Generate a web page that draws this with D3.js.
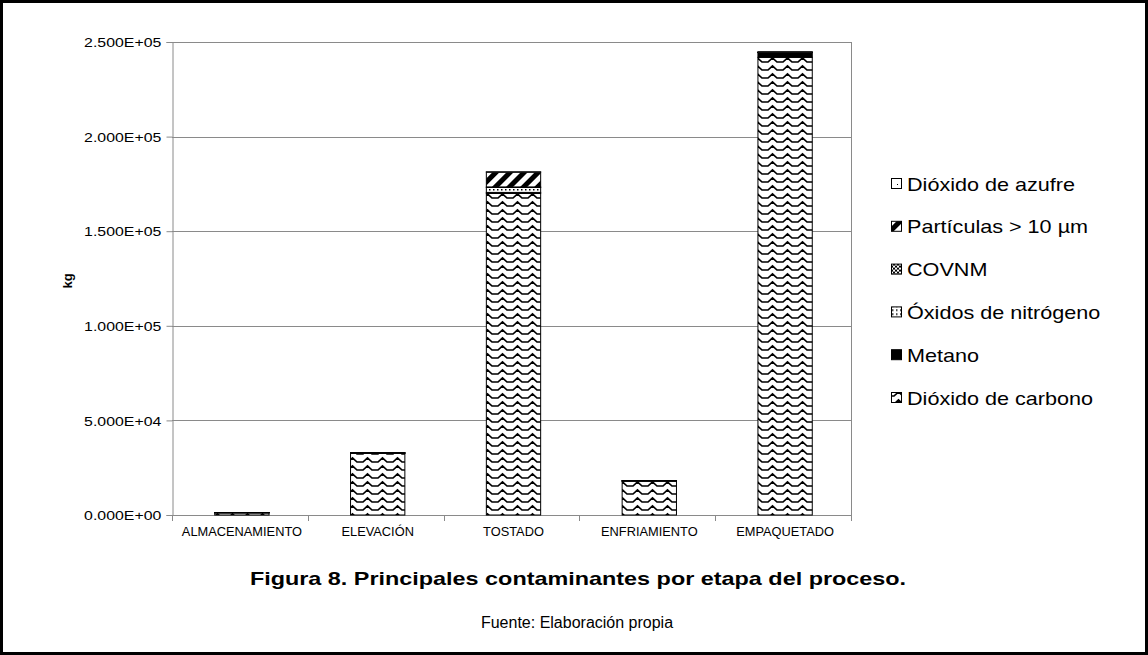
<!DOCTYPE html>
<html>
<head>
<meta charset="utf-8">
<script src="https://cdn.jsdelivr.net/npm/d3@7"></script>
<style>
  body { margin: 0; background: #fff; }
  svg { display: block; font-family: "Liberation Sans", Arial, sans-serif; }
</style>
</head>
<body>
<svg id="chart" width="1148" height="655"></svg>
<script>
// Emisiones por etapa del proceso (kg)
const categories = ["ALMACENAMIENTO", "ELEVACIÓN", "TOSTADO", "ENFRIAMIENTO", "EMPAQUETADO"];
const seriesNames = ["Dióxido de carbono", "Metano", "Óxidos de nitrógeno", "COVNM", "Partículas > 10 µm", "Dióxido de azufre"];
const dioxidoCarbono = [1100, 32700, 170000, 18000, 241900];
const metano = [150, 80, 500, 30, 2500];
const oxidosNitrogeno = [20, 10, 2600, 10, 50];
const covnm = [10, 5, 300, 5, 30];
const particulas = [30, 10, 7800, 10, 100];
const dioxidoAzufre = [5, 2, 200, 2, 300];
const yTicks = [0, 50000, 100000, 150000, 200000, 250000];
const titulo = "Figura 8. Principales contaminantes por etapa del proceso.";
const fuente = "Fuente: Elaboración propia";

const seriesValues = [dioxidoCarbono, metano, oxidosNitrogeno, covnm, particulas, dioxidoAzufre];
const rows = categories.map((c, i) => {
  const r = { cat: c };
  seriesNames.forEach((s, k) => { r[s] = seriesValues[k][i]; });
  return r;
});

const svg = d3.select("#chart");
const defs = svg.append("defs");

// fill patterns (black on white)
function pattern(id, w, h, draw, transform) {
  const p = defs.append("pattern").attr("id", id).attr("patternUnits", "userSpaceOnUse")
    .attr("width", w).attr("height", h);
  if (transform) p.attr("patternTransform", transform);
  p.append("rect").attr("width", w).attr("height", h).attr("fill", "#fff");
  draw(p);
}
pattern("p-co2", 15, 8, p => p.append("path")
  .attr("d", "M0,6 L3,6 L7.5,1.8 L12,6 L15,6")
  .attr("fill", "none").attr("stroke", "#000").attr("stroke-width", 1.7));
pattern("p-ch4", 4, 4, p => p.append("rect").attr("width", 4).attr("height", 4).attr("fill", "#000"));
pattern("p-nox", 4, 4, p => p.append("rect").attr("x", 1).attr("y", 1).attr("width", 1.5).attr("height", 1.5).attr("fill", "#000"));
pattern("p-covnm", 4, 4, p => {
  p.append("rect").attr("width", 2).attr("height", 2).attr("fill", "#000");
  p.append("rect").attr("x", 2).attr("y", 2).attr("width", 2).attr("height", 2).attr("fill", "#000");
});
pattern("p-part", 10, 10, p => p.append("rect").attr("width", 5).attr("height", 10).attr("fill", "#000"), "rotate(45)");
pattern("p-so2", 6, 6, p => p.append("rect").attr("width", 1).attr("height", 1).attr("fill", "#000"));
const fills = ["url(#p-co2)", "url(#p-ch4)", "url(#p-nox)", "url(#p-covnm)", "url(#p-part)", "url(#p-so2)"];
const fillOf = d3.scaleOrdinal(seriesNames, fills);

// outer frame
svg.append("rect").attr("x", 1.5).attr("y", 1.5).attr("width", 1145).attr("height", 652)
  .attr("fill", "none").attr("stroke", "#000").attr("stroke-width", 3);

const plot = { left: 172, right: 851, top: 42, bottom: 515 };
const x = d3.scaleBand(categories, [plot.left, plot.right]).paddingInner(0.6).paddingOuter(0.3);
const y = d3.scaleLinear([0, 250000], [plot.bottom, plot.top]);
const grey = "#8a8a8a";

// gridlines
svg.append("g").selectAll("line").data(yTicks.slice(1)).join("line")
  .attr("x1", plot.left).attr("x2", plot.right)
  .attr("y1", d => Math.round(y(d)) + 0.5).attr("y2", d => Math.round(y(d)) + 0.5)
  .attr("stroke", grey);
// right edge of the plot area
svg.append("line").attr("x1", plot.right + 0.5).attr("x2", plot.right + 0.5)
  .attr("y1", plot.top).attr("y2", plot.bottom).attr("stroke", grey);

// y axis
function sci(v) {
  if (v === 0) return "0.000E+00";
  const e = Math.floor(Math.log10(v));
  const m = v / Math.pow(10, e);
  return m.toFixed(3) + "E" + (e < 0 ? "-" : "+") + String(Math.abs(e)).padStart(2, "0");
}
const yAxis = svg.append("g").attr("transform", `translate(${plot.left + 0.5},0)`)
  .call(d3.axisLeft(y).tickValues(yTicks).tickFormat(sci).tickSize(6).tickPadding(3));
yAxis.select(".domain").attr("stroke", grey);
yAxis.selectAll(".tick line").attr("stroke", grey);
yAxis.selectAll(".tick text").attr("font-size", 13).attr("fill", "#000")
  .attr("font-family", "Liberation Sans, Arial, sans-serif")
  .attr("x", -9.2).attr("dy", "0.36em").attr("transform", "scale(1.22,1)");

// x axis line and boundary ticks
svg.append("line").attr("x1", plot.left).attr("x2", plot.right + 1)
  .attr("y1", plot.bottom + 0.5).attr("y2", plot.bottom + 0.5).attr("stroke", grey);
const bounds = [x.range()[0]].concat(categories.map(c => x(c) + x.bandwidth() + x.step() * x.paddingInner() / 2));
svg.append("g").selectAll("line").data(bounds).join("line")
  .attr("x1", d => Math.round(d) + 0.5).attr("x2", d => Math.round(d) + 0.5)
  .attr("y1", plot.bottom).attr("y2", plot.bottom + 6).attr("stroke", grey);
svg.append("g").selectAll("text").data(categories).join("text")
  .attr("transform", d => `translate(${x(d) + x.bandwidth() / 2 + 2},536) scale(1.07,1)`)
  .attr("text-anchor", "middle").attr("font-size", 12).text(d => d);

// y axis title
svg.append("text").attr("transform", "translate(72,281) rotate(-90)")
  .attr("text-anchor", "middle").attr("font-size", 13).attr("font-weight", "bold").text("kg");

// stacked bars
const stack = d3.stack().keys(seriesNames)(rows);
svg.append("g").selectAll("g").data(stack).join("g")
  .attr("fill", d => fillOf(d.key))
  .selectAll("rect").data(d => d).join("rect")
  .attr("x", d => x(d.data.cat) + 2)
  .attr("width", x.bandwidth())
  .attr("y", d => y(d[1]))
  .attr("height", d => Math.max(0, y(d[0]) - y(d[1])))
  .attr("stroke", "#000").attr("stroke-width", 1);

// legend (top item is the last stacked series)
const legendItems = seriesNames.slice().reverse();
const lg = svg.append("g").selectAll("g").data(legendItems).join("g")
  .attr("transform", (d, i) => `translate(891,${184 + i * 42.8})`);
lg.append("rect").attr("x", 0.5).attr("y", -5.5).attr("width", 10).attr("height", 10)
  .attr("fill", d => fillOf(d)).attr("stroke", "#000");
lg.append("text").attr("transform", "translate(16,6.5) scale(1.2,1)")
  .attr("font-size", 18).text(d => d);

// caption
svg.append("text").attr("transform", "translate(578,585) scale(1.3,1)")
  .attr("text-anchor", "middle").attr("font-size", 18).attr("font-weight", "bold").text(titulo);
svg.append("text").attr("transform", "translate(577,628)")
  .attr("text-anchor", "middle").attr("font-size", 16).text(fuente);
</script>
</body>
</html>
